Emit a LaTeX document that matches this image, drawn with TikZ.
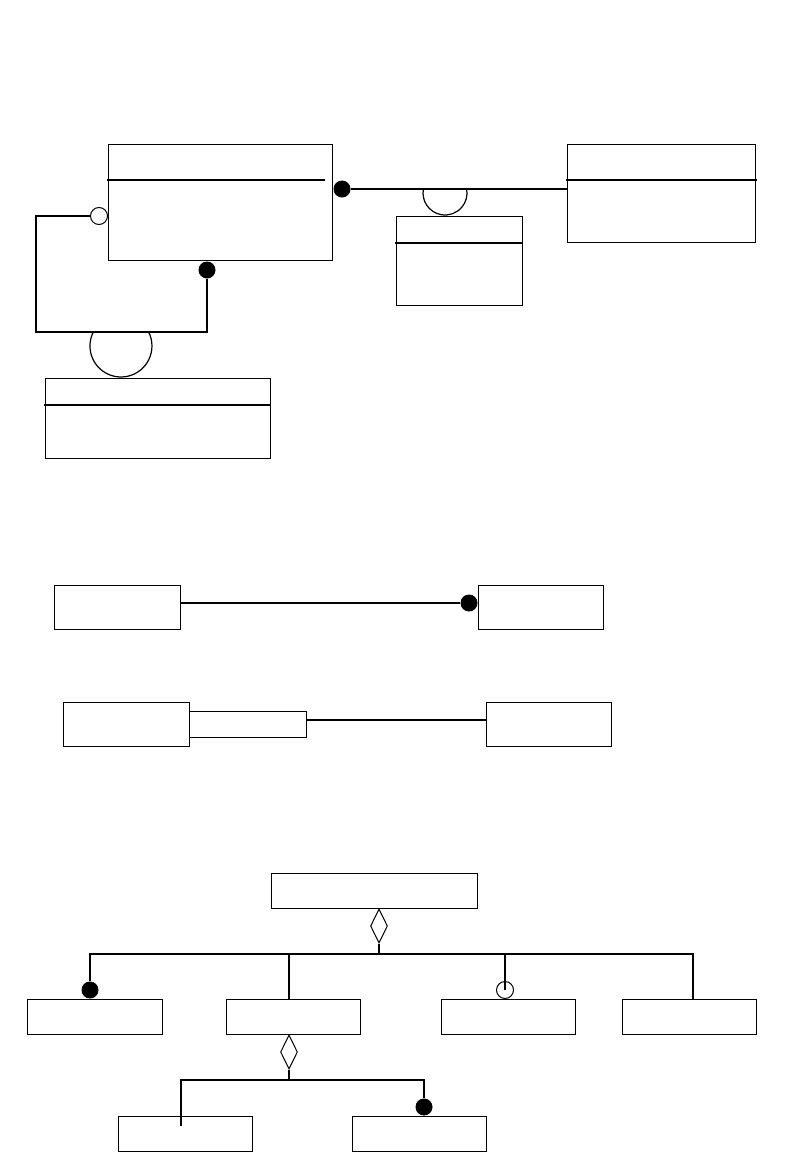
\documentclass[tikz,border=0pt]{standalone}
\usetikzlibrary{shapes.geometric}

\tikzset{
  box/.style={draw, line width=1pt, inner sep=0pt},
  sepline/.style={line width=2pt},
  conn/.style={line width=2.2pt},
  dot/.style={circle, fill, inner sep=0pt, minimum size=17pt},
  odot/.style={circle, draw, fill=white, line width=1pt, inner sep=0pt, minimum size=17pt},
  dia/.style={diamond, draw, line width=1pt, inner sep=0pt, minimum width=17pt, minimum height=34pt},
}

\begin{document}
\begin{tikzpicture}[x=1pt, y=1pt]
  \useasboundingbox (0,0) rectangle (810,-1170);

  % --- top part: classes with separators ---
  \node[box, minimum width=224pt, minimum height=116pt] (A) at (220,-202) {};
  \node[box, minimum width=126pt, minimum height=89pt] (B) at (459,-260.5) {};
  \node[box, minimum width=188pt, minimum height=98pt] (C) at (661,-193) {};
  \node[box, minimum width=225pt, minimum height=80pt] (D) at (157.5,-418) {};
  \draw[sepline] (107,-180) -- (325,-180);
  \draw[sepline] (395,-243) -- (523,-243);
  \draw[sepline] (566,-180) -- (757,-180);
  \draw[sepline] (44,-405) -- (271,-405);

  % A -- C with the half circle of B
  \node[dot] (d1) at (342,-189) {};
  \draw[conn] (d1) -- (d1 -| C.west);
  \draw[line width=1.2pt] (423.4,-189) arc[start angle=169.5, end angle=370.5, radius=22];

  % loop on A, ring of D
  \node[odot] (o1) at (99,-216) {};
  \node[dot] (d2) at (207,-270) {};
  \coordinate (lc) at (36,-332);
  \draw[conn] (o1.west) -| (lc) -| (d2.south);
  \draw[line width=1.2pt] (93.3,-332) arc[start angle=153.2, end angle=386.8, radius=31];

  % --- middle part ---
  \node[box, minimum width=126pt, minimum height=44pt] (E) at (117,-607) {};
  \node[box, minimum width=125pt, minimum height=44pt] (F) at (540.5,-607) {};
  \node[dot] (d3) at (469,-603) {};
  \draw[conn] (d3 -| E.east) -- (d3);

  \node[box, minimum width=126pt, minimum height=44pt] (G) at (126,-724) {};
  \node[box, minimum width=117pt, minimum height=26pt] (H) at (247.5,-724) {};
  \node[box, minimum width=125pt, minimum height=44pt] (I) at (549,-724) {};
  \draw[conn] ([yshift=4pt]H.east) -- ([yshift=4pt]H.east -| I.west);

  % --- bottom part: aggregation tree ---
  \node[box, minimum width=206pt, minimum height=35pt] (T) at (374,-890.5) {};
  \node[dia] (k1) at (379,-926) {};
  \coordinate (b1) at (379,-954);
  \draw[conn] (k1.south) -- (b1);

  \node[box, minimum width=135pt, minimum height=35pt] (K1) at (94.5,-1016.5) {};
  \node[box, minimum width=134pt, minimum height=35pt] (K2) at (293,-1016.5) {};
  \node[box, minimum width=134pt, minimum height=35pt] (K3) at (508,-1016.5) {};
  \node[box, minimum width=134pt, minimum height=35pt] (K4) at (689,-1016.5) {};
  \node[dot] (dk1) at (90,-990) {};
  \node[odot, fill=none] (ok3) at (505,-990) {};

  \draw[conn] (dk1.north) |- (b1);
  \draw[conn] (b1) -| ([xshift=4pt]K4.north);
  \draw[conn] (b1) -| ([xshift=-4pt]K2.north);
  \draw[conn] (b1) -| (ok3.center);

  \node[dia] (k2) at (289,-1052) {};
  \coordinate (b2) at (289,-1080);
  \draw[conn] (k2.south) -- (b2);

  \node[box, minimum width=134pt, minimum height=35pt] (L1) at (185,-1133.5) {};
  \node[box, minimum width=134pt, minimum height=35pt] (L2) at (419.5,-1133.5) {};
  \node[dot] (dl2) at (424,-1107) {};
  \coordinate (le) at (181,-1126);
  \draw[conn] (b2) -| (le);
  \draw[conn] (b2) -| (dl2.north);
\end{tikzpicture}
\end{document}
